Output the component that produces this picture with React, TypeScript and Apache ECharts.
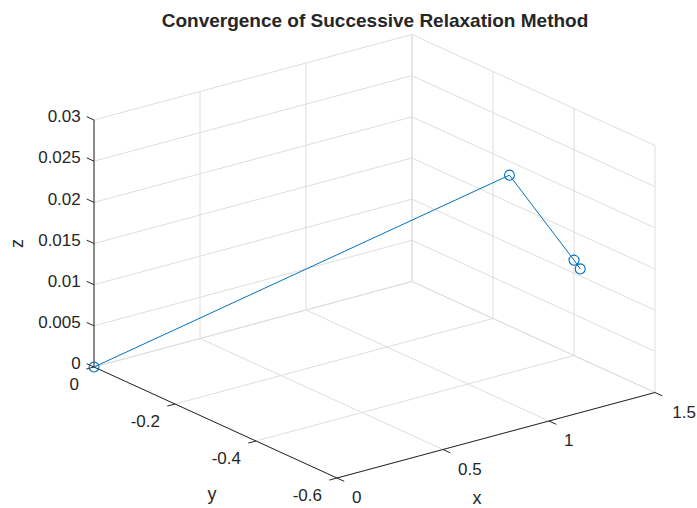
import React, { useEffect, useRef } from "react";
import * as echarts from "echarts";

// ---- data ----
const TITLE = "Convergence of Successive Relaxation Method";
const X_RANGE = [0, 1.5];
const Y_RANGE = [-0.6, 0];
const Z_RANGE = [0, 0.03];
const X_TICKS = [0, 0.5, 1, 1.5];
const Y_TICKS = [0, -0.2, -0.4, -0.6];
const Z_TICKS = [0, 0.005, 0.01, 0.015, 0.02, 0.025, 0.03];
const X_LABELS = ["0", "0.5", "1", "1.5"];
const Y_LABELS = ["0", "-0.2", "-0.4", "-0.6"];
const Z_LABELS = ["0", "0.005", "0.01", "0.015", "0.02", "0.025", "0.03"];
const ITER_X = [0, 1.1, 1.29, 1.3];
const ITER_Y = [0, -0.45, -0.51, -0.52];
const ITER_Z = [0, 0.0258, 0.0155, 0.0146];

// ---- layout (projection of the 3-D box onto the page) ----
const W = 697;
const H = 508;
const ORIGIN = [94, 367]; // (xmin, ymax, zmin)
const EX = [318, -85.5]; // full x range
const EY = [243, 111]; // full y range, from ymax to ymin
const EZ = [0, -247]; // full z range
const GRID_COLOR = "#dedede";
const AXIS_COLOR = "#262626";
const TEXT_COLOR = "#262626";
const LINE_COLOR = "#0072BD";
const FONT = "'Liberation Sans', Arial, Helvetica, sans-serif";

function project(x: number, y: number, z: number): number[] {
  const s = (x - X_RANGE[0]) / (X_RANGE[1] - X_RANGE[0]);
  const t = (Y_RANGE[1] - y) / (Y_RANGE[1] - Y_RANGE[0]);
  const u = (z - Z_RANGE[0]) / (Z_RANGE[1] - Z_RANGE[0]);
  return [
    ORIGIN[0] + s * EX[0] + t * EY[0] + u * EZ[0],
    ORIGIN[1] + s * EX[1] + t * EY[1] + u * EZ[1],
  ];
}

function norm(v: number[], len: number): number[] {
  const l = Math.hypot(v[0], v[1]);
  return [(v[0] / l) * len, (v[1] / l) * len];
}

export default function App() {
  const ref = useRef<HTMLDivElement>(null);

  useEffect(() => {
    if (!ref.current) return;
    const chart = echarts.init(ref.current, undefined, { renderer: "svg" });

    const renderFrame = (_params: any, api: any) => {
      const P = (x: number, y: number, z: number) => api.coord(project(x, y, z));
      const children: any[] = [];
      const seg = (a: number[], b: number[], stroke: string, lw = 1) =>
        children.push({
          type: "line",
          shape: { x1: a[0], y1: a[1], x2: b[0], y2: b[1] },
          style: { stroke, lineWidth: lw },
        });
      const txt = (
        x: number,
        y: number,
        text: string,
        align: string,
        size: number,
        rotation = 0,
        weight = "normal"
      ) =>
        children.push({
          type: "text",
          x,
          y,
          rotation,
          style: {
            text,
            fill: TEXT_COLOR,
            font: `${weight} ${size}px ${FONT}`,
            textAlign: align,
            align,
            textVerticalAlign: "middle",
            verticalAlign: "middle",
          },
        });
      const [x0, x1] = X_RANGE;
      const [y0, y1] = Y_RANGE;
      const [z0, z1] = Z_RANGE;

      // floor grid (z = zmin)
      X_TICKS.forEach((x) => seg(P(x, y1, z0), P(x, y0, z0), GRID_COLOR));
      Y_TICKS.forEach((y) => seg(P(x0, y, z0), P(x1, y, z0), GRID_COLOR));
      // back-left wall (y = ymax)
      X_TICKS.forEach((x) => seg(P(x, y1, z0), P(x, y1, z1), GRID_COLOR));
      Z_TICKS.forEach((z) => seg(P(x0, y1, z), P(x1, y1, z), GRID_COLOR));
      // back-right wall (x = xmax)
      Y_TICKS.forEach((y) => seg(P(x1, y, z0), P(x1, y, z1), GRID_COLOR));
      Z_TICKS.forEach((z) => seg(P(x1, y1, z), P(x1, y0, z), GRID_COLOR));

      // axis lines
      seg(P(x0, y1, z0), P(x0, y1, z1), AXIS_COLOR);
      seg(P(x0, y1, z0), P(x0, y0, z0), AXIS_COLOR);
      seg(P(x0, y0, z0), P(x1, y0, z0), AXIS_COLOR);

      // ticks + labels
      const zDir = norm([-EY[0], -EY[1]], 8);
      Z_TICKS.forEach((z, i) => {
        const p = P(x0, y1, z);
        seg(p, [p[0] + zDir[0], p[1] + zDir[1]], AXIS_COLOR);
        txt(p[0] + zDir[0] - 6, p[1] + zDir[1], Z_LABELS[i], "right", 17);
      });
      const yDir = norm([-EX[0], -EX[1]], 8);
      Y_TICKS.forEach((y, i) => {
        const p = P(x0, y, z0);
        seg(p, [p[0] + yDir[0], p[1] + yDir[1]], AXIS_COLOR);
        txt(p[0] - 15, p[1] + 17.5, Y_LABELS[i], "right", 17);
      });
      const xDir = norm([EY[0], EY[1]], 8);
      X_TICKS.forEach((x, i) => {
        const p = P(x, y0, z0);
        seg(p, [p[0] + xDir[0], p[1] + xDir[1]], AXIS_COLOR);
        if (i === X_TICKS.length - 1) {
          txt(W - 1, p[1] + 19.5, X_LABELS[i], "right", 17);
        } else {
          txt(p[0] + 15, p[1] + 19.5, X_LABELS[i], "left", 17);
        }
      });

      // axis names
      const zMid = P(x0, y1, (z0 + z1) / 2);
      txt(zMid[0] - 77, zMid[1], "z", "center", 18, Math.PI / 2);
      const yMid = P(x0, (y0 + y1) / 2, z0);
      txt(yMid[0] - 3.5, yMid[1] + 71, "y", "center", 18);
      const xMid = P((x0 + x1) / 2, y0, z0);
      txt(xMid[0] - 19, xMid[1] + 63, "x", "center", 18);

      // title
      txt(375, 20, TITLE, "center", 19, 0, "bold");

      return { type: "group", children };
    };

    const points = ITER_X.map((x, i) => project(x, ITER_Y[i], ITER_Z[i]));

    chart.setOption({
      animation: false,
      backgroundColor: "#ffffff",
      grid: { left: 0, right: 0, top: 0, bottom: 0 },
      xAxis: { type: "value", min: 0, max: W, show: false },
      yAxis: { type: "value", min: 0, max: H, inverse: true, show: false },
      series: [
        {
          type: "custom",
          silent: true,
          z: 1,
          data: [[0, 0]],
          renderItem: renderFrame,
        },
        {
          type: "line",
          z: 2,
          data: points,
          symbol: "circle",
          symbolSize: 10,
          lineStyle: { color: LINE_COLOR, width: 1 },
          itemStyle: {
            color: "rgba(0,0,0,0)",
            borderColor: LINE_COLOR,
            borderWidth: 1.1,
          },
          emphasis: { disabled: true },
        },
      ],
    });

    return () => chart.dispose();
  }, []);

  return (
    <div
      ref={ref}
      style={{ position: "fixed", left: 0, top: 0, width: W, height: H, background: "#fff" }}
    />
  );
}
